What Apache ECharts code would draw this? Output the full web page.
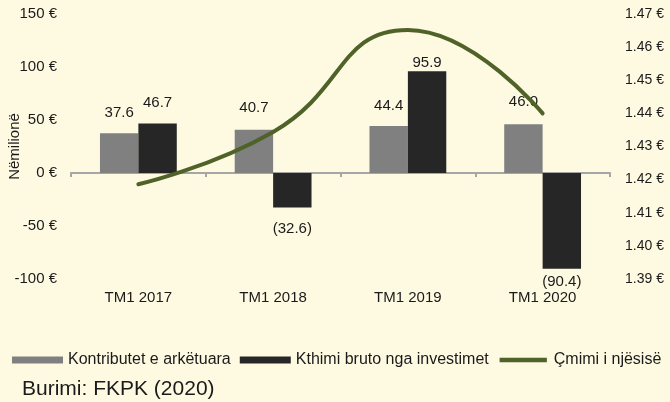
<!DOCTYPE html>
<html>
<head>
<meta charset="utf-8">
<script src="https://cdn.jsdelivr.net/npm/echarts@6/dist/echarts.min.js"></script>
<style>
  html, body { margin: 0; padding: 0; background: #fefae2; }
  #main { width: 670px; height: 402px; }
</style>
</head>
<body>
<div id="main"></div>
<script>
var categories = ['TM1 2017', 'TM1 2018', 'TM1 2019', 'TM1 2020'];
var kontributet = [37.6, 40.7, 44.4, 46.0];
var kthimi = [46.7, -32.6, 95.9, -90.4];
var cmimi = [1.4186, 1.4344, 1.4652, 1.4400];
var leftTicks = [-100, 150, 50];   // min, max, interval
var rightTicks = [1.39, 1.47, 0.01];

var textColor = '#1a1a1a';
var font = 'Liberation Sans';

function valLabel(p) {
  var v = p.value;
  return v < 0 ? '(' + (-v).toFixed(1) + ')' : v.toFixed(1);
}

// distance of each label from its bar
var kontDist = [13, 14, 13, 15];
var kthDist = [13, 14, 1, 6];

var myChart = echarts.init(document.getElementById('main'));

var option = {
  backgroundColor: '#fefae2',
  textStyle: { fontFamily: font, color: textColor },
  grid: { left: 71, right: 60, top: 14, bottom: 123, containLabel: false, outerBoundsMode: 'none' },
  legend: {
    left: 12,
    top: 352,
    width: 658,
    padding: 0,
    itemWidth: 51,
    itemHeight: 7,
    itemGap: 9,
    textStyle: { fontFamily: font, fontSize: 16, color: textColor },
    data: [
      { name: 'Kontributet e arkëtuara', icon: 'rect' },
      { name: 'Kthimi bruto nga investimet', icon: 'rect' },
      { name: 'Çmimi i njësisë', icon: 'path://M0,0M2,1L53,1L53,6L2,6ZM55,7' }
    ]
  },
  graphic: [{
    type: 'text',
    left: 22,
    top: 379,
    style: { text: 'Burimi: FKPK (2020)', fontFamily: font, fontSize: 21, fill: textColor }
  }],
  xAxis: [
    {
      type: 'category',
      data: categories,
      position: 'bottom',
      axisLine: { onZero: true, lineStyle: { color: '#a6a6a6', width: 2 } },
      axisTick: { show: true, length: 4, lineStyle: { color: '#a6a6a6', width: 2 } },
      axisLabel: { show: false }
    },
    {
      type: 'category',
      data: categories,
      position: 'bottom',
      axisLine: { show: false, onZero: false },
      axisTick: { show: false },
      axisLabel: { fontSize: 15, color: textColor, margin: 11, fontFamily: font }
    }
  ],
  yAxis: [
    {
      type: 'value',
      min: leftTicks[0], max: leftTicks[1], interval: leftTicks[2],
      name: 'Nëmilionë',
      nameLocation: 'middle',
      nameRotate: 90,
      nameGap: 49,
      nameMoveOverlap: false,
      nameTextStyle: { fontSize: 15, color: textColor, fontFamily: font },
      axisLine: { show: false },
      axisTick: { show: false },
      splitLine: { show: false },
      axisLabel: { fontSize: 15, color: textColor, margin: 14, formatter: function (v) { return v + ' €'; } }
    },
    {
      type: 'value',
      min: rightTicks[0], max: rightTicks[1], interval: rightTicks[2],
      position: 'right',
      axisLine: { show: false },
      axisTick: { show: false },
      splitLine: { show: false },
      axisLabel: { fontSize: 14, color: textColor, margin: 15, formatter: function (v) { return v.toFixed(2) + ' €'; } }
    }
  ],
  series: [
    {
      name: 'Kontributet e arkëtuara',
      type: 'bar',
      barWidth: '28.5%',
      barGap: '0%',
      itemStyle: { color: '#808080' },
      data: kontributet.map(function (v, i) {
        return { value: v, label: { position: v < 0 ? 'bottom' : 'top', distance: kontDist[i] } };
      }),
      label: { show: true, fontSize: 15, color: textColor, formatter: valLabel }
    },
    {
      name: 'Kthimi bruto nga investimet',
      type: 'bar',
      barWidth: '28.5%',
      barGap: '0%',
      itemStyle: { color: '#262626' },
      data: kthimi.map(function (v, i) {
        return { value: v, label: { position: v < 0 ? 'bottom' : 'top', distance: kthDist[i] } };
      }),
      label: { show: true, fontSize: 15, color: textColor, formatter: valLabel }
    },
    {
      name: 'Çmimi i njësisë',
      type: 'line',
      yAxisIndex: 1,
      smooth: true,
      symbol: 'none',
      z: 5,
      lineStyle: { color: '#4f6228', width: 4, cap: 'round' },
      itemStyle: { color: '#4f6228' },
      data: cmimi
    }
  ]
};

myChart.setOption(option);
</script>
</body>
</html>
